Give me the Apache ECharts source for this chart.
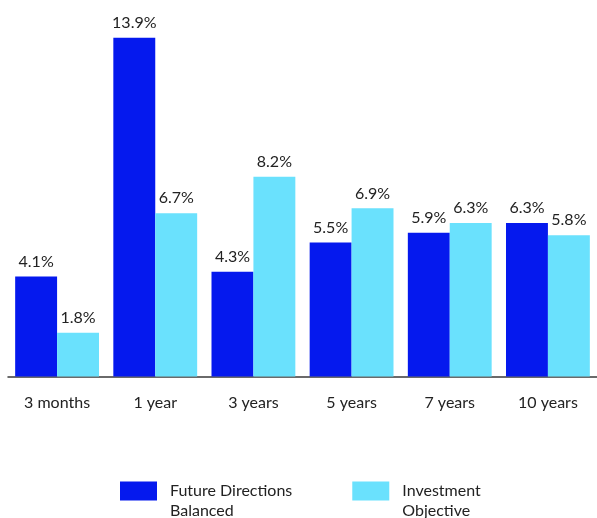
<!DOCTYPE html>
<html>
<head>
<meta charset="utf-8">
<script src="https://cdn.jsdelivr.net/npm/echarts@6/dist/echarts.min.js"></script>
<style>
  html, body { margin: 0; padding: 0; background: #fff; }
  #chart { width: 597px; height: 518px; }
</style>
</head>
<body>
<div id="chart"></div>
<script>
// Return periods and annualised returns (%)
const periods = ['3 months', '1 year', '3 years', '5 years', '7 years', '10 years'];
const fundReturns = [4.1, 13.9, 4.3, 5.5, 5.9, 6.3];
const objectiveReturns = [1.8, 6.7, 8.2, 6.9, 6.3, 5.8];
const seriesNames = ['Future Directions\nBalanced', 'Investment\nObjective'];

const FONT = 'Lato, "Open Sans", sans-serif';
const TEXT = '#222222';

const labelStyle = {
  show: true,
  position: 'top',
  distance: 7,
  color: TEXT,
  fontFamily: FONT,
  fontSize: 16,
  formatter: p => p.value.toFixed(1) + '%'
};

const chart = echarts.init(document.getElementById('chart'), null, { renderer: 'canvas' });
chart.setOption({
  animation: false,
  backgroundColor: '#ffffff',
  grid: { left: 8, right: -1, top: 11, bottom: 141.5, containLabel: false },
  legend: {
    left: 120,
    top: 461,
    padding: 0,
    itemWidth: 37,
    itemHeight: 19,
    itemGap: 60,
    icon: 'rect',
    // a leading blank line keeps the first text line level with the swatch
    formatter: name => '\n' + name,
    textStyle: {
      color: TEXT,
      fontFamily: FONT,
      fontSize: 16,
      lineHeight: 20,
      padding: [0, 0, 0, 8]
    },
    data: seriesNames
  },
  xAxis: {
    type: 'category',
    data: periods,
    axisLine: { lineStyle: { color: '#3a3a3a', width: 1.5 } },
    axisTick: { show: false },
    axisLabel: { color: TEXT, fontFamily: FONT, fontSize: 16, margin: 18 }
  },
  yAxis: {
    type: 'value',
    min: 0,
    max: 15,
    show: false,
    splitLine: { show: false }
  },
  series: [
    {
      name: seriesNames[0],
      type: 'bar',
      data: fundReturns,
      itemStyle: { color: '#0519ee' },
      barGap: '0%',
      barCategoryGap: '14.6%',
      label: labelStyle
    },
    {
      name: seriesNames[1],
      type: 'bar',
      data: objectiveReturns,
      itemStyle: { color: '#6ae1fd' },
      label: labelStyle
    }
  ]
});
</script>
</body>
</html>
